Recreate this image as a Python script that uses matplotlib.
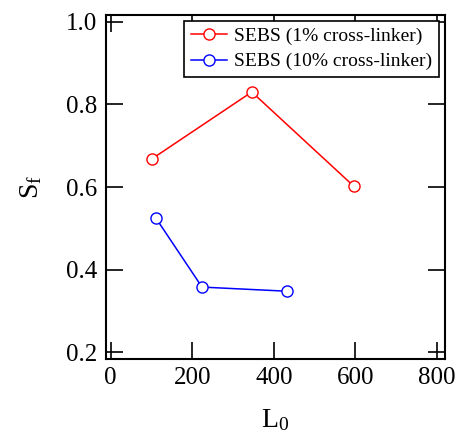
import matplotlib
matplotlib.use('Agg')
import matplotlib.pyplot as plt

# Fonts: Times-like serif everywhere
plt.rcParams['font.family'] = 'Liberation Serif'
plt.rcParams['mathtext.fontset'] = 'custom'
plt.rcParams['mathtext.rm'] = 'Liberation Serif'
plt.rcParams['mathtext.it'] = 'Liberation Serif:italic'

# Data
L0_1pct = [101, 346, 596]
Sf_1pct = [0.668, 0.830, 0.602]
L0_10pct = [111, 224, 432]
Sf_10pct = [0.525, 0.358, 0.348]

xticks = [0, 200, 400, 600, 800]
yticks = [0.2, 0.4, 0.6, 0.8, 1.0]

fig = plt.figure(figsize=(4.61, 4.34), dpi=100)
ax = fig.add_axes([105.7 / 461, 1 - 359 / 434, 339.5 / 461, 344.3 / 434])

ax.plot(L0_1pct, Sf_1pct, '-o', color='red', mfc='white', mec='red',
        ms=8, lw=1.1, mew=1.0, label='SEBS (1% cross-linker)')
ax.plot(L0_10pct, Sf_10pct, '-o', color='blue', mfc='white', mec='blue',
        ms=8, lw=1.1, mew=1.0, label='SEBS (10% cross-linker)')

ax.set_xlim(-12, 820)
ax.set_ylim(0.184, 1.017)
ax.set_xticks(xticks)
ax.set_yticks(yticks)
ax.set_yticklabels([f'{v:.1f}' for v in yticks])

ax.tick_params(direction='in', length=12, width=1.2, labelsize=18,
               top=True, right=True, pad=6)
for s in ax.spines.values():
    s.set_linewidth(1.5)

ax.set_xlabel(r'$\mathregular{L_0}$', fontsize=20, labelpad=13)
ax.set_ylabel(r'$\mathregular{S_f}$', fontsize=20, labelpad=16)

leg = ax.legend(loc='upper right', fontsize=14, frameon=True, fancybox=False,
                framealpha=1, edgecolor='black', borderpad=0.35,
                handlelength=1.85, labelspacing=0.4, borderaxespad=0.3,
                handletextpad=0.4)
leg.get_frame().set_linewidth(1.2)

fig.savefig('out.png', dpi=100)
